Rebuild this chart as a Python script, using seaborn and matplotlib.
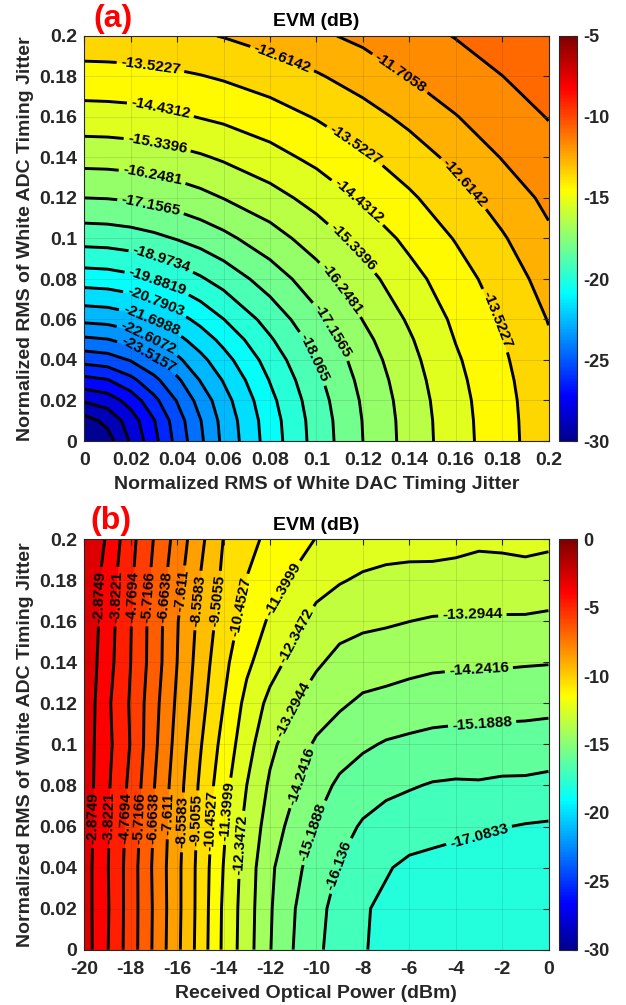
import numpy as np
import pandas as pd
import matplotlib
matplotlib.use("Agg")
import matplotlib.pyplot as plt
import seaborn as sns
from matplotlib.colors import LinearSegmentedColormap, Normalize
from matplotlib.cm import ScalarMappable
from matplotlib.ticker import FuncFormatter

# ---------------- data: panel (a) ----------------
dac_jitter = [0, 0.01, 0.02, 0.03, 0.04, 0.05, 0.06, 0.08, 0.10, 0.12, 0.14, 0.16, 0.18, 0.20]
adc_jitter_a = [0, 0.01, 0.02, 0.03, 0.04, 0.05, 0.06, 0.08, 0.10, 0.12, 0.14, 0.16, 0.18, 0.20]
# rows: ADC jitter (y), columns: DAC jitter (x)
evm_a = [
    [-29.88, -29.35, -27.95, -26.53, -25.02, -23.69, -22.39, -20.36, -18.62, -17.16, -15.91, -14.82, -13.86, -12.97],
    [-29.35, -28.72, -27.62, -26.30, -24.85, -23.56, -22.30, -20.30, -18.58, -17.13, -15.89, -14.80, -13.84, -12.96],
    [-27.95, -27.62, -26.79, -25.59, -24.37, -23.17, -22.05, -20.12, -18.46, -17.05, -15.83, -14.75, -13.81, -12.93],
    [-26.53, -26.30, -25.59, -24.68, -23.69, -22.57, -21.64, -19.84, -18.27, -16.91, -15.73, -14.66, -13.75, -12.87],
    [-25.02, -24.85, -24.37, -23.69, -22.80, -21.96, -21.13, -19.50, -18.02, -16.73, -15.60, -14.55, -13.66, -12.80],
    [-23.69, -23.56, -23.17, -22.57, -21.96, -21.27, -20.54, -19.08, -17.73, -16.50, -15.44, -14.40, -13.56, -12.70],
    [-22.39, -22.30, -22.05, -21.64, -21.13, -20.54, -19.90, -18.62, -17.39, -16.23, -15.23, -14.26, -13.43, -12.58],
    [-20.36, -20.30, -20.12, -19.84, -19.50, -19.08, -18.62, -17.64, -16.63, -15.68, -14.75, -13.91, -13.11, -12.26],
    [-18.62, -18.58, -18.46, -18.27, -18.02, -17.73, -17.39, -16.63, -15.83, -15.02, -14.21, -13.47, -12.71, -11.87],
    [-17.16, -17.13, -17.05, -16.91, -16.73, -16.50, -16.23, -15.68, -15.02, -14.31, -13.66, -12.97, -12.22, -11.50],
    [-15.91, -15.89, -15.83, -15.73, -15.60, -15.44, -15.23, -14.75, -14.21, -13.66, -13.06, -12.39, -11.67, -11.15],
    [-14.82, -14.80, -14.75, -14.66, -14.55, -14.40, -14.26, -13.91, -13.47, -12.97, -12.39, -11.74, -11.26, -10.76],
    [-13.86, -13.84, -13.81, -13.75, -13.66, -13.56, -13.43, -13.11, -12.71, -12.22, -11.67, -11.26, -10.81, -10.34],
    [-12.97, -12.96, -12.93, -12.87, -12.80, -12.70, -12.58, -12.26, -11.87, -11.50, -11.15, -10.76, -10.34, -9.89],
]
levels_a = [-28.9664, -28.058, -27.1495, -26.2411, -25.3326, -24.4241, -23.5157,
            -22.6072, -21.6988, -20.7903, -19.8819, -18.9734, -18.065, -17.1565,
            -16.2481, -15.3396, -14.4312, -13.5227, -12.6142, -11.7058, -10.7973]
zmin_a = -29.8749
label_levels_a = [-23.5157, -22.6072, -21.6988, -20.7903, -19.8819, -18.9734, -18.065,
                  -17.1565, -16.2481, -15.3396, -14.4312, -13.5227, -12.6142, -11.7058]
label_pos_a = [(0.0269, 0.0408), (0.0269, 0.049), (0.0283, 0.058), (0.0297, 0.0663),
               (0.0312, 0.0778), (0.0327, 0.0878), (0.0973, 0.040),
               (0.0283, 0.1141), (0.105, 0.0532), (0.029, 0.1289), (0.110, 0.0746),
               (0.0312, 0.1453), (0.1145, 0.0943), (0.0326, 0.1626), (0.1174, 0.1174),
               (0.0284, 0.1837), (0.1145, 0.142), (0.1749, 0.0586),
               (0.0844, 0.1865), (0.162, 0.1256), (0.136, 0.1816)]

# ---------------- data: panel (b) ----------------
rx_power = [-20, -19, -18, -17, -16, -15, -14, -13, -12, -11, -10,
            -9, -8, -7, -6, -5, -4, -3, -2, -1, 0]
adc_jitter_b = [0, 0.02, 0.04, 0.06, 0.08, 0.10, 0.12, 0.14, 0.16, 0.18, 0.20]
evm_b = [
    [-2.41, -3.78, -5.25, -6.80, -8.34, -9.91, -11.58, -12.89, -14.20, -15.19, -15.97, -16.52, -17.01, -17.35, -17.62, -17.72, -17.82, -17.90, -17.95, -17.98, -18.03],
    [-2.45, -3.73, -5.24, -6.77, -8.30, -9.87, -11.55, -12.85, -14.15, -15.12, -15.86, -16.47, -17.00, -17.25, -17.50, -17.60, -17.72, -17.80, -17.85, -17.88, -17.93],
    [-2.43, -3.77, -5.23, -6.82, -8.30, -9.85, -11.43, -12.78, -14.06, -14.95, -15.55, -16.20, -16.62, -17.01, -17.26, -17.36, -17.45, -17.52, -17.57, -17.62, -17.65],
    [-2.37, -3.73, -5.12, -6.72, -8.22, -9.76, -11.26, -12.64, -13.71, -14.56, -15.25, -15.80, -16.24, -16.49, -16.67, -16.77, -16.87, -16.94, -17.05, -17.14, -17.19],
    [-2.34, -3.68, -5.00, -6.62, -8.13, -9.66, -11.06, -12.35, -13.43, -14.11, -14.82, -15.36, -15.69, -15.93, -16.06, -16.20, -16.25, -16.23, -16.30, -16.31, -16.39],
    [-2.35, -3.57, -4.82, -6.44, -7.94, -9.43, -10.77, -11.99, -13.08, -13.77, -14.37, -14.76, -15.05, -15.27, -15.38, -15.48, -15.53, -15.54, -15.58, -15.59, -15.65],
    [-2.20, -3.65, -4.87, -6.34, -7.77, -9.19, -10.45, -11.68, -12.60, -13.23, -13.77, -14.11, -14.41, -14.53, -14.66, -14.76, -14.80, -14.83, -14.86, -14.89, -14.93],
    [-2.17, -3.46, -4.77, -6.16, -7.61, -9.00, -10.20, -11.21, -11.98, -12.62, -13.16, -13.57, -13.76, -13.84, -13.96, -14.06, -14.10, -14.12, -14.13, -14.17, -14.20],
    [-2.07, -3.37, -4.73, -6.14, -7.55, -8.83, -9.93, -10.80, -11.53, -12.11, -12.63, -12.96, -13.11, -13.19, -13.29, -13.38, -13.40, -13.40, -13.40, -13.41, -13.47],
    [-2.02, -3.31, -4.63, -5.94, -7.28, -8.59, -9.70, -10.48, -11.01, -11.50, -12.02, -12.28, -12.48, -12.58, -12.64, -12.67, -12.72, -12.78, -12.76, -12.73, -12.80],
    [-1.70, -3.03, -4.47, -5.75, -7.02, -8.33, -9.53, -10.17, -10.67, -11.05, -11.43, -11.60, -11.85, -11.97, -11.99, -11.97, -12.04, -12.17, -12.14, -12.06, -12.15],
]
levels_b = [-17.0833, -16.136, -15.1888, -14.2416, -13.2944, -12.3472, -11.3999, -10.4527,
            -9.5055, -8.5583, -7.611, -6.6638, -5.7166, -4.7694, -3.8221, -2.8749]
zmin_b = -18.0305
label_levels_b = levels_b
label_pos_b = [(-19.31, 0.172), (-18.57, 0.172), (-17.88, 0.172), (-17.21, 0.172),
               (-16.45, 0.172), (-15.74, 0.175), (-14.97, 0.170), (-14.2, 0.170),
               (-13.28, 0.167), (-11.43, 0.1754), (-11.0, 0.154), (-11.0, 0.117),
               (-10.57, 0.0843), (-10.1, 0.057), (-9.07, 0.0413), (-3.0, 0.0559),
               (-3.28, 0.164), (-3.0, 0.1364), (-2.86, 0.110),
               (-19.64, 0.064), (-18.93, 0.064), (-18.21, 0.064), (-17.64, 0.064),
               (-16.98, 0.064), (-16.43, 0.066), (-15.74, 0.062), (-15.14, 0.063),
               (-14.5, 0.063), (-13.71, 0.0673), (-13.14, 0.051)]

# ---------------- style ----------------
sns.set_style("white")
plt.rcParams["font.family"] = ["Liberation Sans", "DejaVu Sans"]
plt.rcParams["font.weight"] = "bold"
plt.rcParams["axes.labelweight"] = "bold"
plt.rcParams["axes.titleweight"] = "bold"
plt.rcParams["axes.unicode_minus"] = False
plt.rcParams["contour.negative_linestyle"] = "solid"

TXT = "#262626"
# MATLAB-style jet colormap
jet_m = LinearSegmentedColormap("jet_matlab", {
    "red":   [(0, 0, 0), (0.365, 0, 0), (0.619, 1, 1), (0.873, 1, 1), (1, 0.5, 0.5)],
    "green": [(0, 0, 0), (0.111, 0, 0), (0.365, 1, 1), (0.619, 1, 1), (0.873, 0, 0), (1, 0, 0)],
    "blue":  [(0, 0.5625, 0.5625), (0.111, 1, 1), (0.365, 1, 1), (0.619, 0, 0), (1, 0, 0)],
}, N=256)

W, H = 626, 1005
fig = plt.figure(figsize=(W / 100, H / 100), dpi=100)


def frac(x0, y0, x1, y1):
    return [x0 / W, 1 - y1 / H, (x1 - x0) / W, (y1 - y0) / H]


ax_a = fig.add_axes(frac(84.3, 36, 548.5, 441))
cax_a = fig.add_axes(frac(558.7, 36, 577.3, 441))
ax_b = fig.add_axes(frac(84.3, 539.3, 548.5, 949.6))
cax_b = fig.add_axes(frac(558.7, 539.3, 577.3, 949.6))

fmt_g = FuncFormatter(lambda v, p: f"{v:g}")


def panel(ax, cax, xs, ys, z, levels, zmin, lab_levels, lab_pos, vmin, vmax,
          cticks, xticks, yticks, xlabel, ylabel, fix_vertical=False):
    df = pd.DataFrame(z, index=ys, columns=xs)
    X = df.columns.values
    Y = df.index.values
    Z = df.values
    norm = Normalize(vmin, vmax)
    lo = min(Z.min(), zmin) - 1.0
    hi = Z.max() + 1.0
    bounds = [lo] + list(levels) + [hi]
    band_cols = [jet_m(norm(zmin))] + [jet_m(norm(v)) for v in levels]
    ax.contourf(X, Y, Z, levels=bounds, colors=band_cols)
    plain = [v for v in levels if v not in lab_levels]
    if plain:
        ax.contour(X, Y, Z, levels=plain, colors="k", linewidths=2.1,
                   linestyles="solid")
    cs = ax.contour(X, Y, Z, levels=lab_levels, colors="k", linewidths=2.1,
                    linestyles="solid")
    ax.clabel(cs, manual=lab_pos, inline=True, inline_spacing=4,
              fontsize=11, fmt=lambda v: f"{v:g}")
    for t in cs.labelTexts:
        t.set_fontweight("bold")
        t.set_color("k")
        if fix_vertical:
            r = t.get_rotation() % 360
            if 250 < r < 290:
                t.set_rotation(r - 180)
    ax.set_xlim(xs[0], xs[-1])
    ax.set_ylim(ys[0], ys[-1])
    ax.set_xticks(xticks)
    ax.set_yticks(yticks)
    ax.xaxis.set_major_formatter(fmt_g)
    ax.yaxis.set_major_formatter(fmt_g)
    ax.tick_params(direction="in", length=4, width=0.8, top=True, right=True,
                   labelsize=14, colors=TXT)
    ax.tick_params(axis="x", pad=8)
    ax.tick_params(axis="y", pad=5)
    ax.grid(True, color="#262626", alpha=0.15, linewidth=0.6)
    ax.set_axisbelow(False)
    for s in ax.spines.values():
        s.set_color(TXT)
        s.set_linewidth(0.8)
    ax.set_title("EVM (dB)", fontsize=14, color="k", pad=7)
    ax.set_xlabel(xlabel, fontsize=14, color=TXT, labelpad=5)
    ax.set_ylabel(ylabel, fontsize=14, color=TXT, labelpad=4)

    cb = fig.colorbar(ScalarMappable(norm=norm, cmap=jet_m), cax=cax)
    cb.set_ticks(cticks)
    cb.ax.yaxis.set_major_formatter(fmt_g)
    cb.ax.tick_params(direction="in", length=3, width=0.8, labelsize=13,
                      colors=TXT, pad=4)
    cb.outline.set_edgecolor(TXT)
    cb.outline.set_linewidth(0.8)


ticks_02 = [0, 0.02, 0.04, 0.06, 0.08, 0.1, 0.12, 0.14, 0.16, 0.18, 0.2]
panel(ax_a, cax_a, dac_jitter, adc_jitter_a, evm_a, levels_a, zmin_a,
      label_levels_a, label_pos_a, -30, -5, [-30, -25, -20, -15, -10, -5],
      ticks_02, ticks_02,
      "Normalized RMS of White DAC Timing Jitter",
      "Normalized RMS of White ADC Timing Jitter")
panel(ax_b, cax_b, rx_power, adc_jitter_b, evm_b, levels_b, zmin_b,
      label_levels_b, label_pos_b, -30, 0, [-30, -25, -20, -15, -10, -5, 0],
      [-20, -18, -16, -14, -12, -10, -8, -6, -4, -2, 0], ticks_02,
      "Received Optical Power (dBm)",
      "Normalized RMS of White ADC Timing Jitter", fix_vertical=True)

fig.text(93 / W, 1 - 18.5 / H, "(a)", color="#ff0000", fontsize=23,
         fontweight="bold", ha="left", va="center")
fig.text(90 / W, 1 - 521 / H, "(b)", color="#ff0000", fontsize=23,
         fontweight="bold", ha="left", va="center")

fig.savefig("out.png", dpi=100)
